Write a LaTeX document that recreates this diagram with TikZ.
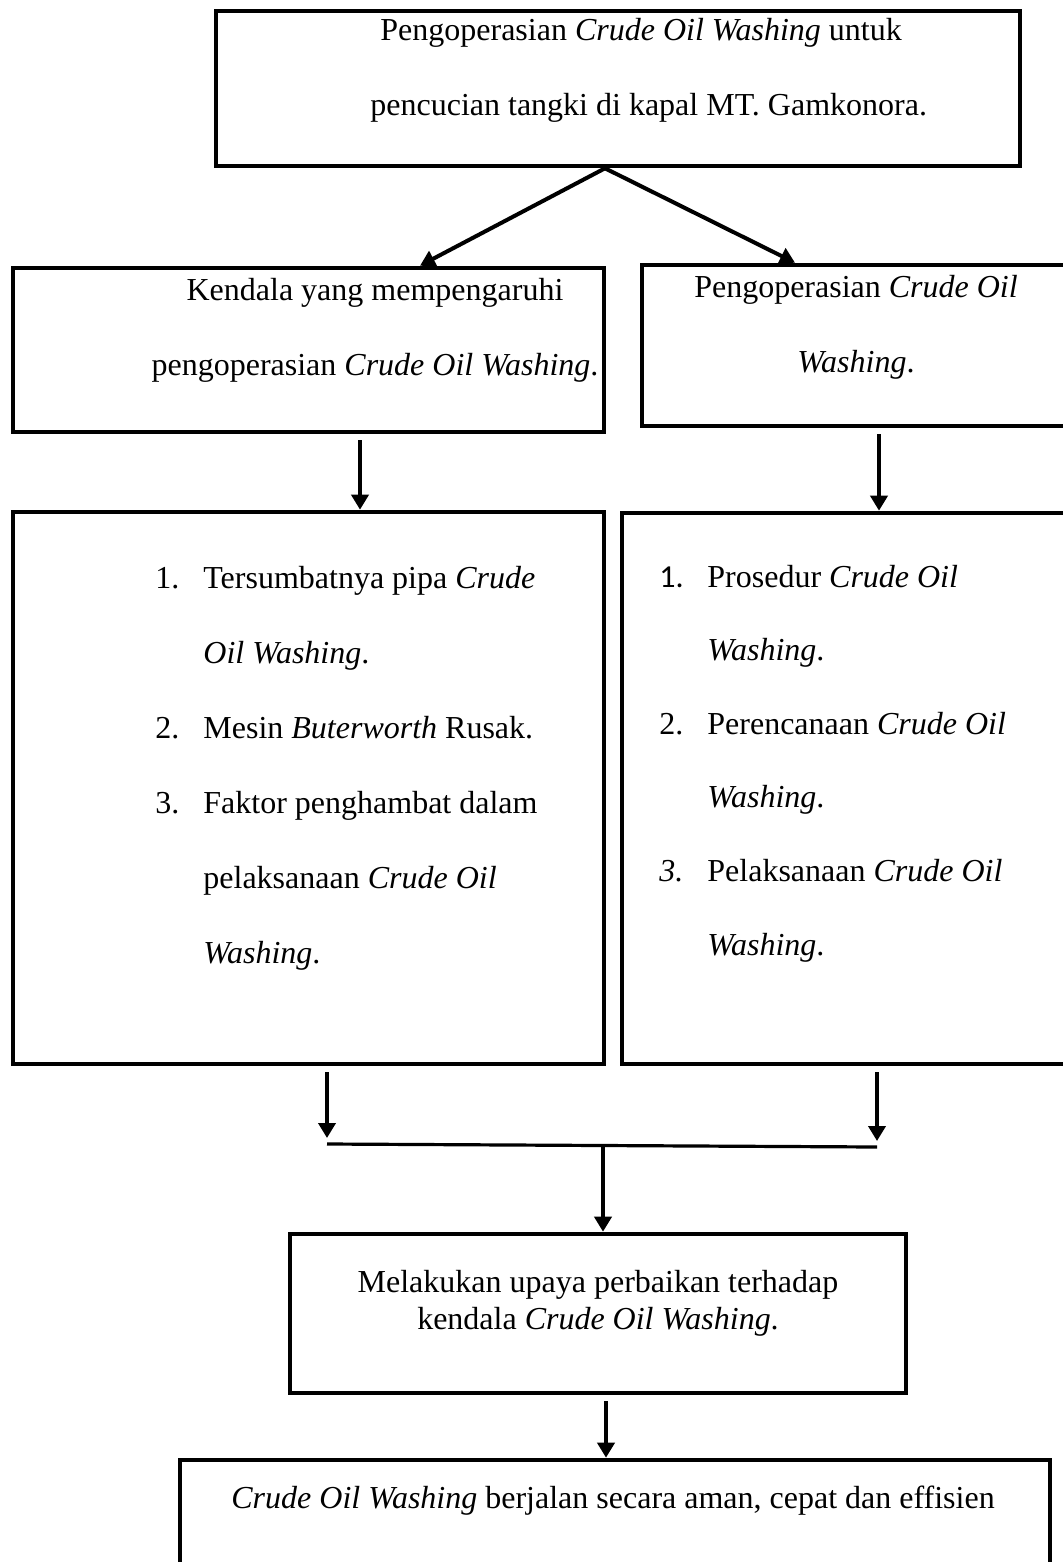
\documentclass[tikz,border=0pt]{standalone}
\usepackage{fontspec}
\setmainfont{Liberation Serif}
\newfontfamily\numfont{Carlito}
\usepackage{tikz}
\usetikzlibrary{calc}
\usetikzlibrary{arrows.meta}
\usetikzlibrary{positioning}

\newcommand{\numbox}[1]{\makebox[24pt][l]{#1}}
\newcommand{\contline}{\hspace*{24pt}}

\tikzset{
  box/.style={draw, line width=2.3pt, inner sep=0pt},
  arr/.style={line width=2pt, -{Triangle[length=7.5pt,width=8.5pt]}},
  txt/.style={inner sep=0pt, font=\fontsize{16}{37.5}\selectfont},
}

\begin{document}
\begin{tikzpicture}[x=0.5pt, y=-0.5pt]
            \useasboundingbox (0,0) rectangle (1063,1562);
            \clip (0,0) rectangle (1063,1562);
            % boxes
            \node[box, minimum width=402pt,   minimum height=77.5pt]  (top)   at ( 618.0,  88.5) {};
            \node[box, minimum width=295.5pt, minimum height=82pt]    (kend)  at ( 308.5, 350.0) {};
            \node[box, minimum width=219pt,   minimum height=80.5pt]  (cow)   at ( 861.0, 345.5) {};
            \node[box, minimum width=295.5pt, minimum height=276pt]   (list1) at ( 308.5, 788.0) {};
            \node[box, minimum width=229pt,   minimum height=275.5pt] (list2) at ( 851.0, 788.5) {};
            \node[box, minimum width=308pt,   minimum height=79.5pt]  (upaya) at ( 598.0,1313.5) {};
            \node[box, minimum width=435pt,   minimum height=80pt]    (hasil) at ( 615.0,1540.0) {};
            % texts (anchored at the baseline of the last line)
            \node[txt, anchor=base west, align=left] (toptext) at (370,116)
                 {\hspace*{5pt}Pengoperasian \textit{Crude Oil Washing} untuk\\pencucian tangki di kapal MT. Gamkonora.};
            \node[txt, anchor=base, align=center] (kendtext) at (375,375)
                 {Kendala yang mempengaruhi\\pengoperasian \textit{Crude Oil Washing}.};
            \node[txt, anchor=base, align=center] (cowtext) at (856,372)
                 {Pengoperasian \textit{Crude Oil}\\\textit{Washing}.};
            \node[txt, anchor=base west, align=left] (list1text) at (155,963)
                 {\numbox{1.}Tersumbatnya pipa \textit{Crude}\\
                  \contline\textit{Oil Washing}.\\
                  \numbox{2.}Mesin \textit{Buterworth} Rusak.\\
                  \numbox{3.}Faktor penghambat dalam\\
                  \contline pelaksanaan \textit{Crude Oil}\\
                  \contline\textit{Washing}.};
            \node[txt, anchor=base west, align=left, font=\fontsize{16}{36.8}\selectfont] (list2text) at (659,955)
                 {\numbox{\numfont 1.}Prosedur \textit{Crude Oil}\\
                  \contline\textit{Washing}.\\
                  \numbox{2.}Perencanaan \textit{Crude Oil}\\
                  \contline\textit{Washing}.\\
                  \numbox{\textit{3.}}Pelaksanaan \textit{Crude Oil}\\
                  \contline\textit{Washing}.};
            \node[txt, anchor=base, align=center, font=\fontsize{16}{18.5}\selectfont] (upayatext) at (598,1329)
                 {Melakukan upaya perbaikan terhadap\\kendala \textit{Crude Oil Washing}.};
            \node[txt, anchor=base west] (hasiltext) at (231,1508)
                 {\textit{Crude Oil Washing} berjalan secara aman, cepat dan effisien};
            % connectors
            \coordinate (jl) at (327,1144);
            \coordinate (jr) at (877,1147);
            \coordinate (jm) at (603,1145.5);
            \draw[arr] (605,0 |- top.south) -- (420,0 |- kend.north);
            \draw[arr] (605,0 |- top.south) -- (795,0 |- cow.north);
            \draw[arr, shorten <=3pt] (360,0 |- kend.south) -- (360,0 |- list1.north);
            \draw[arr, shorten <=3pt] (879,0 |- cow.south) -- (879,0 |- list2.north);
            \draw[arr, shorten <=3pt, shorten >=3pt] (list1.south -| jl) -- (jl);
            \draw[arr, shorten <=3pt, shorten >=3pt] (list2.south -| jr) -- (jr);
            \draw[line width=1.6pt] (jl) -- (jr);
            \draw[arr] (jm) -- (upaya.north -| jm);
            \draw[arr, shorten <=3pt] (upaya.south -| 606,0) -- (hasil.north -| 606,0);
\end{tikzpicture}
\end{document}
